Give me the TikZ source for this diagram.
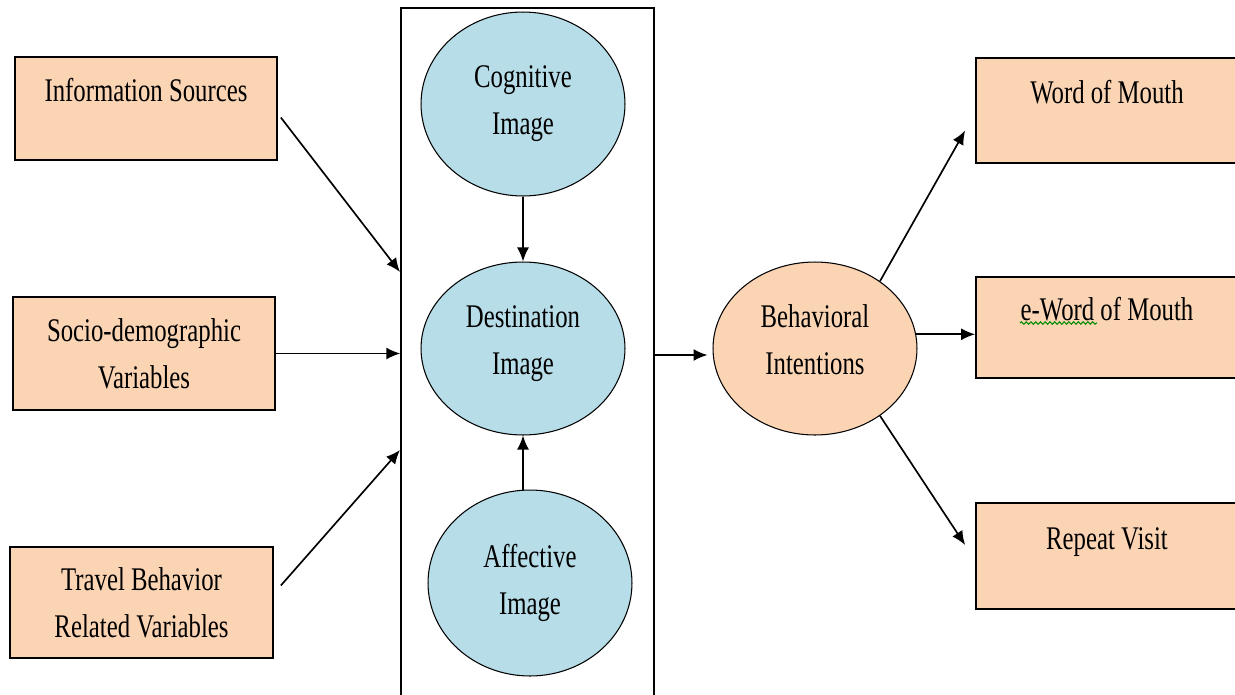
\documentclass[tikz,border=0pt]{standalone}
\usepackage{fontspec}
\setmainfont{Liberation Serif}[FakeStretch=0.75]
\usetikzlibrary{shapes.geometric,arrows.meta,decorations.pathmorphing}
\definecolor{peach}{HTML}{FBD4B4}
\definecolor{paleblue}{HTML}{B7DDE8}
\begin{document}
\begin{tikzpicture}[x=0.02cm, y=-0.02cm,
  every node/.style={font=\fontsize{18.8}{26.7}\selectfont, align=center, inner sep=0pt},
  box/.style={draw, line width=1pt, fill=peach, minimum width=5.24cm},
  topbox/.style={box, text height=0.46cm, text depth=0.74cm},
  blob/.style={draw, ellipse, line width=0.6pt, minimum width=4.08cm},
  arr/.style={line width=0.95pt, -{Latex[length=2.8mm,width=2.4mm]}}]
\useasboundingbox (0,0) rectangle (1235,694);
\node[draw, line width=0.8pt, minimum width=5.06cm, minimum height=13.76cm] (ImgBox) at (527.5,352) {};
% left column
\node[topbox, minimum height=2.06cm] (InfoSrc) at (146,108.5) {Information Sources};
\node[box, minimum height=2.26cm] (SocioDem) at (144,353.5) {Socio-demographic\\Variables};
\node[box, minimum width=5.26cm, minimum height=2.22cm] (TravBeh) at (141.5,602.5) {Travel Behavior\\Related Variables};
% image column
\node[blob, fill=paleblue, minimum height=3.68cm] (CogImg) at (523,104) {Cognitive\\Image};
\node[blob, fill=paleblue, minimum height=3.46cm, text depth=0.35cm] (DestImg) at (523,348.5) {Destination\\Image};
\node[blob, fill=paleblue, minimum height=3.72cm] (AffImg) at (530,583) {Affective\\Image};
% intentions
\node[blob, fill=peach, minimum height=3.46cm, text depth=0.35cm] (BehInt) at (815,348.5) {Behavioral\\Intentions};
\node[topbox, minimum height=2.1cm] (WoM) at (1107,110.5) {Word of Mouth};
\node[topbox, minimum height=2.02cm] (EWoM) at (1107,327.5) {e-Word of Mouth};
\node[topbox, minimum height=2.12cm] (RepVis) at (1107,556) {Repeat Visit};
\draw[green!55!black, line width=0.6pt, decorate, decoration={snake, amplitude=0.7pt, segment length=2.7pt}] (1020,323) -- (1097,323);
% connectors
\coordinate (In1) at (400,272);
\coordinate (In3) at (400,450);
\coordinate (BehIn) at ([shift={(-5,6.5)}]BehInt.west);
\draw[arr] ([shift={(3,9)}]InfoSrc.east) -- (In1);
\draw[arr] (SocioDem.east) -- (SocioDem.east -| ImgBox.west);
\draw[arr] ([shift={(7,-17)}]TravBeh.east) -- (In3);
\draw[arr] (CogImg) -- (DestImg);
\draw[arr] (DestImg.south |- AffImg.north) -- (DestImg.south);
\draw[arr] (ImgBox.east |- BehIn) -- (BehIn);
\draw[arr] (BehInt.46) -- ([shift={(-10,20)}]WoM.west);
\draw[arr] (BehInt.8) -- (BehInt.8 -| EWoM.west);
\draw[arr] (BehInt.-46) -- ([shift={(-10,-11)}]RepVis.west);
\end{tikzpicture}
\end{document}
